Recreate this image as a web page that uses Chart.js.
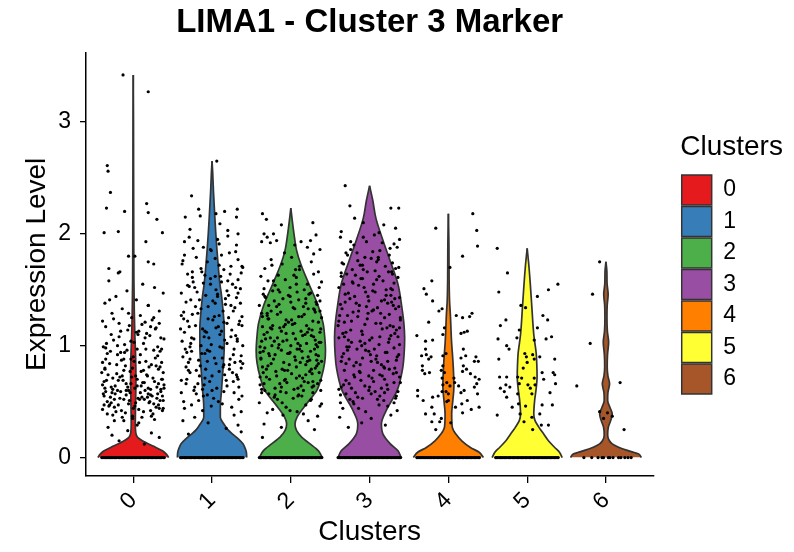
<!DOCTYPE html>
<html>
<head>
<meta charset="utf-8">
<title>LIMA1 - Cluster 3 Marker</title>
<script src="https://cdn.jsdelivr.net/npm/chart.js@4.4.0/dist/chart.umd.min.js"></script>
<style>
  html, body { margin: 0; padding: 0; background: #fff; }
</style>
</head>
<body>
<canvas id="vln" width="794" height="552"></canvas>
<script>
// Violin plot with jittered cells, one violin per cluster

var clusters = ['0', '1', '2', '3', '4', '5', '6'];
var clusterColors = ['#E41A1C', '#377EB8', '#4DAF4A', '#984EA3', '#FF7F00', '#FFFF33', '#A65628'];
var yTicks = [0, 1, 2, 3];

// violin outlines: [expression level, half width]
var vln0 = [[0,0.45],[0.03,0.42],[0.06,0.37],[0.1,0.26],[0.13,0.17],[0.15,0.115],[0.18,0.055],[0.22,0.032],[0.3,0.026],[0.5,0.03],[0.7,0.034],[0.9,0.03],[1.1,0.02],[1.3,0.013],[1.6,0.008],[2.0,0.006],[2.6,0.004],[3.0,0.003],[3.42,0]];
var vln1 = [[0,0.44],[0.05,0.435],[0.1,0.41],[0.125,0.39],[0.17,0.33],[0.21,0.26],[0.25,0.2],[0.3,0.15],[0.36,0.105],[0.45,0.105],[0.6,0.12],[0.8,0.14],[1.0,0.155],[1.15,0.155],[1.31,0.14],[1.45,0.12],[1.55,0.1],[1.7,0.08],[1.85,0.063],[2.0,0.048],[2.14,0.036],[2.38,0.018],[2.55,0.008],[2.65,0]];
var vln2 = [[0,0.4],[0.06,0.35],[0.125,0.24],[0.18,0.14],[0.24,0.074],[0.3,0.053],[0.36,0.078],[0.48,0.2],[0.6,0.33],[0.72,0.39],[0.85,0.43],[0.955,0.44],[1.08,0.43],[1.2,0.41],[1.37,0.34],[1.55,0.23],[1.73,0.126],[1.85,0.074],[2.0,0.04],[2.12,0.018],[2.23,0]];
var vln3 = [[0,0.4],[0.06,0.36],[0.125,0.26],[0.21,0.17],[0.3,0.15],[0.42,0.21],[0.6,0.35],[0.8,0.42],[0.95,0.44],[1.07,0.445],[1.2,0.435],[1.34,0.41],[1.55,0.36],[1.76,0.26],[1.94,0.17],[2.14,0.08],[2.3,0.04],[2.43,0]];
var vln4 = [[0,0.445],[0.047,0.39],[0.09,0.28],[0.15,0.17],[0.21,0.095],[0.27,0.05],[0.39,0.042],[0.5,0.055],[0.63,0.07],[0.75,0.066],[0.87,0.057],[1.04,0.04],[1.28,0.025],[1.4,0.015],[1.6,0.009],[1.9,0.007],[2.18,0]];
var vln5 = [[0,0.445],[0.047,0.41],[0.09,0.35],[0.15,0.27],[0.21,0.21],[0.27,0.15],[0.33,0.1],[0.39,0.084],[0.51,0.095],[0.62,0.115],[0.72,0.126],[0.82,0.123],[0.93,0.115],[1.1,0.084],[1.34,0.06],[1.55,0.04],[1.73,0.02],[1.87,0]];
var vln6 = [[0,0.45],[0.033,0.41],[0.062,0.28],[0.092,0.16],[0.122,0.08],[0.15,0.044],[0.2,0.022],[0.27,0.03],[0.33,0.06],[0.39,0.08],[0.45,0.05],[0.51,0.022],[0.58,0.025],[0.66,0.046],[0.73,0.025],[0.81,0.016],[0.92,0.02],[1.03,0.034],[1.13,0.018],[1.25,0.013],[1.36,0.016],[1.46,0.028],[1.56,0.014],[1.66,0.012],[1.75,0]];

// expressing cells: [jitter, expression level]
var cells0 = [[-0.13,3.42],[0.19,3.27],[-0.33,2.61],[-0.32,2.56],[-0.29,2.37],[-0.34,2.23],[-0.11,2.2],[0.17,2.27],[0.19,2.19],[0.3,2.13],[-0.37,2.01],[-0.19,2.02],[0.37,2.01],[0.16,1.93],[0.19,1.75],[0.26,1.73],[-0.06,1.8],[0.02,1.8],[-0.31,1.69],[-0.19,1.65],[-0.17,1.66],
  [-0.31,1.58],[0.12,1.55],[0.27,1.52],[-0.08,1.49],[0.38,1.47],[-0.22,1.44],[0.04,1.41],[-0.36,1.38],[0.19,1.36],[-0.14,1.33],[0.33,1.31],[-0.27,1.29],[0.09,1.27],[-0.02,1.25],[0.24,1.23],[-0.39,1.22],[0.15,1.21],[-0.18,1.2],
  [0.31,0.91],[-0.05,1.18],[0.36,0.97],[-0.25,1.05],[0.07,1.13],[-0.33,0.93],[0.21,1.09],[-0.11,1.01],[0.29,1.16],[-0.29,0.95],[0.01,1.03],[0.17,1.11],[-0.38,0.99],[0.11,1.19],[-0.2,0.92],[0.35,1.07],[-0.07,1.14],[0.26,0.96],[-0.34,1.02],[0.06,1.1],[-0.16,0.94],[0.39,1.06],[0.22,1.17],[-0.35,0.98],[-0.03,1.04],
  [0.22,0.61],[-0.35,0.88],[-0.03,0.66],[0.32,0.79],[-0.17,0.72],[0.08,0.85],[-0.28,0.63],[0.37,0.7],[-0.1,0.82],[0.14,0.67],[-0.4,0.76],[0.28,0.89],[-0.23,0.64],[0.03,0.73],[0.34,0.81],[-0.13,0.69],[0.19,0.62],[-0.3,0.84],[0.1,0.77],[-0.06,0.6],[0.25,0.71],[-0.37,0.68],[0.16,0.86],[-0.21,0.75],[0.39,0.65],[-0.01,0.8],[0.3,0.63],[-0.15,0.87],[0.05,0.7],[-0.32,0.74],[0.23,0.83],[-0.09,0.66],[0.13,0.78],[-0.26,0.61],[0.36,0.85],[-0.19,0.69],[0.02,0.62],[-0.36,0.8],[0.18,0.73],[-0.12,0.88],
  [-0.04,0.58],[0.29,0.45],[-0.24,0.52],[0.11,0.36],[-0.37,0.55],[0.2,0.49],[0.35,0.59],[-0.15,0.42],[-0.3,0.47],[0.06,0.53],[0.25,0.39],[-0.09,0.56],[0.38,0.44],[-0.2,0.6],[0.13,0.41],[-0.33,0.5],[0.02,0.46],[0.31,0.57],[-0.12,0.33],[0.18,0.54],[-0.39,0.43],[0.09,0.58],[-0.26,0.38],[0.34,0.51],[-0.06,0.48],[0.22,0.56],[-0.17,0.53],[0.27,0.34],[-0.35,0.59],[0.0,0.44],[0.15,0.6],[-0.28,0.49],[0.37,0.55],[-0.1,0.4],[0.08,0.52],[-0.23,0.57],[0.32,0.47],[-0.01,0.37],
  [-0.32,0.27],[0.23,0.22],[-0.18,0.15],[0.05,0.29],[0.33,0.18],[-0.07,0.24],[0.14,0.12],[-0.27,0.2],
  [0.14,0.52],[-0.26,0.71],[0.33,0.44],[-0.07,0.63],[0.2,0.81],[-0.38,0.57],[0.03,0.49],[0.27,0.68],[-0.16,0.59],[0.38,0.76],[-0.31,0.46],[0.1,0.64],[-0.21,0.83],[0.24,0.55],[-0.02,0.72],[0.35,0.61],[-0.34,0.69],[0.07,0.43],[-0.12,0.78],[0.3,0.53],[-0.27,0.58],[0.17,0.74],[-0.05,0.51],[0.39,0.62],[-0.19,0.47],[0.12,0.67],[-0.36,0.79],[0.26,0.48],[-0.09,0.6],[0.01,0.86],[0.32,0.66],[-0.24,0.45],[0.19,0.57],[-0.14,0.73],[0.05,0.64],[-0.29,0.54],[0.36,0.7],[-0.04,0.77],[0.21,0.5],[-0.39,0.65],
  [-0.18,1.08],[0.09,0.92],[-0.33,0.39],[0.28,1.15],[-0.01,0.35],[0.16,0.97],[-0.25,1.24],[0.37,0.42],[-0.11,0.94],[0.04,1.12],[-0.39,0.85],[0.23,0.37],[-0.06,1.29],[0.31,0.99],[-0.22,0.41],[0.13,1.02],[-0.35,1.17],[0.0,0.9],[0.26,1.25],[-0.14,0.36],[0.34,0.95],[-0.28,1.1],[0.07,0.31],[-0.08,0.96],[0.19,1.36],[-0.37,0.47],[0.29,0.82],[-0.2,1.0],[0.11,0.54],[-0.3,1.41],[0.38,0.51],[-0.03,0.88],[0.15,1.07],[-0.24,0.33],[0.33,1.2],[-0.12,0.52],[0.05,0.97],[-0.36,0.62],[0.22,0.42],[-0.16,1.13]];

var cells1 = [[0.06,2.65],[-0.26,2.34],[-0.17,2.22],[-0.34,2.15],[-0.15,2.16],[0.16,2.2],[0.32,2.22],[0.31,2.15],[0.33,2.0],[0.05,2.18],[0.1,2.09],[0.2,2.03],[-0.28,2.04],
  [0.04,1.62],[-0.29,1.97],[0.24,1.71],[-0.11,1.88],[0.37,1.65],[-0.2,1.79],[-0.35,1.93],[0.15,1.68],[0.3,1.84],[-0.06,1.75],[-0.25,1.61],[0.09,1.91],[-0.38,1.73],[0.2,1.98],[-0.13,1.66],[0.33,1.77],[-0.02,1.86],[-0.31,1.64],[0.12,1.81],[-0.18,1.94],[0.39,1.7],[-0.09,1.63],
  [-0.31,1.22],[0.12,1.57],[0.27,1.31],[-0.08,1.45],[0.38,1.26],[-0.22,1.52],[0.04,1.38],[-0.36,1.24],[0.19,1.49],[-0.14,1.33],[0.33,1.59],[-0.27,1.41],[0.09,1.27],[-0.02,1.55],[0.24,1.36],[-0.39,1.47],[0.15,1.21],[-0.18,1.29],[0.31,1.43],[-0.05,1.35],[0.36,1.51],[-0.25,1.28],[0.07,1.46],[-0.33,1.39],[0.21,1.25],[-0.11,1.56],[0.29,1.34],[-0.29,1.53],[0.01,1.23],[0.17,1.42],
  [0.22,0.83],[-0.35,1.12],[-0.03,0.95],[0.32,1.04],[-0.17,0.87],[0.08,1.17],[-0.28,0.99],[0.37,0.91],[-0.1,1.08],[0.14,0.81],[-0.4,1.15],[0.28,0.97],[-0.23,1.06],[0.03,0.89],[0.34,1.19],[-0.13,0.93],[0.19,1.02],[-0.3,0.85],[0.1,1.1],[-0.06,0.96],[0.25,1.14],[-0.37,0.9],[0.16,1.05],[-0.21,1.18],[0.39,0.84],[-0.01,1.01],[0.3,1.09],[-0.15,0.82],[0.05,1.16],[-0.32,0.94],[0.23,0.88],[-0.09,1.13],[0.13,0.98],[-0.26,1.07],[0.36,0.86],
  [0.06,0.62],[0.25,0.45],[-0.09,0.71],[0.38,0.55],[-0.2,0.78],[0.13,0.48],[-0.33,0.66],[0.02,0.53],[0.31,0.74],[-0.12,0.42],[0.18,0.69],[-0.39,0.58],[0.09,0.77],[-0.26,0.47],[0.34,0.63],[-0.06,0.56],[0.22,0.79],[-0.17,0.51],[0.27,0.68],[-0.35,0.44],[0.0,0.73],[0.15,0.59],[-0.28,0.76],[0.37,0.41],[-0.1,0.65],[0.08,0.5],[-0.23,0.6],[0.32,0.72],[-0.01,0.46],[-0.32,0.7],
  [0.33,0.29],[-0.37,0.33],[0.37,0.23],[-0.22,0.36],[0.18,0.26],[-0.05,0.31],[0.28,0.38],[-0.3,0.21],
  [0.14,1.31],[-0.26,0.95],[0.33,1.47],[-0.07,1.12],[0.2,1.58],[-0.38,1.04],[0.03,1.26],[0.27,0.92],[-0.16,1.41],[0.38,1.18],[-0.31,1.54],[0.1,0.99],[-0.21,1.35],[0.24,1.08],[-0.02,1.6],[0.35,1.22],[-0.34,0.97],[0.07,1.44],[-0.12,1.15],[0.3,1.52],[-0.27,1.02],[0.17,1.37],[-0.05,1.24],[0.39,1.0],[-0.19,1.48],[0.12,1.13],[-0.36,1.3],[0.26,1.55],[-0.09,0.93],[0.01,1.4],[0.32,1.06],[-0.24,1.57],[0.19,1.2],[-0.14,1.0],[0.05,1.5],[-0.29,1.17],[0.36,1.38],[-0.04,1.07],[0.21,1.45],[-0.39,1.27],
  [-0.18,0.66],[0.09,1.72],[-0.33,0.81],[0.28,0.58],[-0.01,1.85],[0.16,0.74],[-0.25,1.66],[0.37,0.8],[-0.11,0.55],[0.04,1.78],[-0.39,0.69],[0.23,1.64],[-0.06,0.86],[0.31,1.9],[-0.22,0.63],[0.13,0.89],[-0.35,1.81],[0.0,0.6],[0.26,0.76],[-0.14,1.69],[0.34,0.52],[-0.28,0.88],[0.07,1.95],[-0.08,0.79],[0.19,0.64],[-0.37,1.76],[0.29,0.85],[-0.2,0.57],[0.11,1.62],[-0.3,0.78],[0.38,1.71],[-0.03,0.68],[0.15,0.83],[-0.24,1.87],[0.33,0.7],[-0.12,0.61],[0.05,0.84],[-0.36,0.5],[0.22,1.83],[-0.16,0.73]];

var cells2 = [[-0.31,2.13],[-0.34,2.0],[-0.3,1.97],[-0.37,1.93],[-0.26,1.92],[-0.22,2.0],[-0.18,1.94],[0.13,1.93],[0.25,1.94],[0.32,1.99],[0.37,1.86],[0.21,1.88],[-0.08,1.83],[0.05,1.9],[0.29,1.82],[-0.12,2.08],[-0.36,2.18],[0.28,2.1],
  [0.36,1.52],[-0.25,1.77],[0.07,1.61],[-0.33,1.69],[0.21,1.55],[-0.11,1.73],[0.29,1.64],[-0.29,1.58],[0.01,1.79],[0.17,1.5],[-0.38,1.62],[0.11,1.71],[-0.2,1.54],[0.35,1.66],[-0.07,1.59],[0.26,1.75],[-0.34,1.51],[0.06,1.68],[-0.16,1.63],[0.39,1.57],
  [0.22,1.33],[-0.35,1.46],[-0.03,1.21],[0.32,1.39],[-0.17,1.28],[0.08,1.48],[-0.28,1.24],[0.37,1.31],[-0.1,1.42],[0.14,1.26],[-0.4,1.36],[0.28,1.22],[-0.23,1.49],[0.03,1.34],[0.34,1.45],[-0.13,1.3],[0.19,1.38],[-0.3,1.27],[0.1,1.41],[-0.06,1.23],[0.25,1.47],[-0.37,1.29],[0.16,1.35],[-0.21,1.4],[0.39,1.25],[-0.01,1.44],[0.3,1.32],[-0.15,1.37],[0.05,1.2],[-0.32,1.43],
  [-0.04,0.93],[0.29,1.08],[-0.24,1.15],[0.11,0.97],[-0.37,1.04],[0.2,1.18],[0.35,0.91],[-0.15,1.01],[-0.3,1.12],[0.06,1.06],[0.25,0.95],[-0.09,1.17],[0.38,1.03],[-0.2,0.92],[0.13,1.13],[-0.33,0.98],[0.02,1.19],[0.31,1.05],[-0.12,0.96],[0.18,1.1],[-0.39,0.94],[0.09,1.02],[-0.26,1.16],[0.34,0.99],[-0.06,1.11],[0.22,0.9],[-0.17,1.07],[0.27,1.14],[-0.35,0.95],[0.0,1.0],[0.15,1.09],[-0.28,0.93],[0.37,1.12],[-0.1,1.04],[0.08,0.97],[-0.23,1.18],[0.32,1.01],[-0.01,0.94],[-0.32,1.06],[0.23,1.15],
  [-0.31,0.72],[0.12,0.85],[0.27,0.63],[-0.08,0.78],[0.38,0.69],[-0.22,0.88],[0.04,0.61],[-0.36,0.81],[0.19,0.74],[-0.14,0.66],[0.33,0.87],[-0.27,0.7],[0.09,0.62],[-0.02,0.83],[0.24,0.77],[-0.39,0.65],[0.15,0.89],[-0.18,0.73],[0.31,0.8],[-0.05,0.67],[0.36,0.76],[-0.25,0.84],[0.07,0.71],[-0.33,0.6],[0.21,0.86],[-0.11,0.79],[0.29,0.64],[-0.29,0.82],[0.01,0.75],[0.17,0.68],[-0.38,0.89],[0.11,0.73],[-0.2,0.62],[0.35,0.84],[-0.07,0.7],[0.26,0.79],[-0.34,0.66],[0.06,0.87],
  [-0.17,0.52],[0.08,0.41],[-0.28,0.57],[0.37,0.46],[-0.1,0.38],[0.14,0.55],[-0.4,0.49],[0.28,0.58],[-0.23,0.43],[0.03,0.53],[0.34,0.37],[-0.13,0.59],[0.19,0.47],[-0.3,0.4],[0.1,0.56],[-0.06,0.45],[0.25,0.51],[-0.37,0.58],[0.16,0.39],[-0.21,0.54],[0.39,0.48],[-0.01,0.42],
  [-0.34,0.3],[0.3,0.25],[-0.36,0.18],[0.22,0.33],[-0.12,0.27],
  [0.14,0.95],[-0.26,1.07],[0.33,0.82],[-0.07,1.19],[0.2,1.02],[-0.38,0.88],[0.03,1.11],[0.27,0.75],[-0.16,0.98],[0.38,1.15],[-0.31,0.79],[0.1,1.26],[-0.21,1.04],[0.24,0.87],[-0.02,0.93],[0.35,1.21],[-0.34,1.1],[0.07,0.81],[-0.12,1.13],[0.3,0.97],[-0.27,0.91],[0.17,1.28],[-0.05,1.05],[0.39,0.86],[-0.19,0.77],[0.12,1.0],[-0.36,1.17],[0.26,1.09],[-0.09,0.85],[0.01,1.23],[0.32,0.92],[-0.24,1.0],[0.19,0.83],[-0.14,1.16],[0.05,0.9],[-0.29,1.24],[0.36,1.03],[-0.04,0.78],[0.21,1.12],[-0.39,0.99],
  [-0.18,1.35],[0.09,0.55],[-0.33,1.44],[0.28,0.68],[-0.01,1.52],[0.16,0.6],[-0.25,1.31],[0.37,1.4],[-0.11,0.49],[0.04,1.63],[-0.39,0.72],[0.23,1.46],[-0.06,0.58],[0.31,1.3],[-0.22,1.58],[0.13,0.64],[-0.35,0.76],[0.0,1.39],[0.26,0.52],[-0.14,1.48],[0.34,0.66],[-0.28,1.36],[0.07,1.55],[-0.08,0.69],[0.19,1.42],[-0.37,0.61],[0.29,1.33],[-0.2,0.56],[0.11,1.68],[-0.3,1.29],[0.38,0.6],[-0.03,1.45],[0.15,0.71],[-0.24,1.72],[0.33,1.37],[-0.12,0.63],[0.05,1.33],[-0.36,1.26],[0.22,0.67],[-0.16,1.5]];

var cells3 = [[-0.31,2.43],[-0.25,2.25],[0.27,2.23],[0.37,2.23],[-0.08,2.1],[0.18,2.08],[-0.36,2.02],[0.33,2.05],[-0.19,2.14],[0.12,2.01],
  [-0.04,1.93],[0.29,1.74],[-0.24,1.86],[0.11,1.79],[-0.37,1.97],[0.2,1.71],[0.35,1.88],[-0.15,1.76],[-0.3,1.83],[0.06,1.99],[0.25,1.81],[-0.09,1.72],[0.38,1.95],[-0.2,1.9],[0.13,1.85],[-0.33,1.73],[0.02,1.78],[0.31,1.91],
  [-0.31,1.46],[0.12,1.62],[0.27,1.51],[-0.08,1.68],[0.38,1.43],[-0.22,1.57],[0.04,1.49],[-0.36,1.65],[0.19,1.41],[-0.14,1.54],[0.33,1.69],[-0.27,1.47],[0.09,1.59],[-0.02,1.44],[0.24,1.66],[-0.39,1.52],[0.15,1.4],[-0.18,1.63],[0.31,1.56],[-0.05,1.48],[0.36,1.61],[-0.25,1.42],[0.07,1.67],[-0.33,1.55],[0.21,1.45],[-0.11,1.6],[0.29,1.5],[-0.29,1.64],
  [0.22,1.16],[-0.35,1.33],[-0.03,1.24],[0.32,1.11],[-0.17,1.38],[0.08,1.2],[-0.28,1.27],[0.37,1.35],[-0.1,1.13],[0.14,1.29],[-0.4,1.18],[0.28,1.39],[-0.23,1.22],[0.03,1.31],[0.34,1.14],[-0.13,1.36],[0.19,1.25],[-0.3,1.12],[0.1,1.34],[-0.06,1.19],[0.25,1.28],[-0.37,1.37],[0.16,1.15],[-0.21,1.3],[0.39,1.23],[-0.01,1.4],[0.3,1.17],[-0.15,1.26],[0.05,1.32],[-0.32,1.21],[0.23,1.38],[-0.09,1.1],
  [-0.3,0.84],[0.06,0.97],[0.25,1.06],[-0.09,0.89],[0.38,1.01],[-0.2,0.82],[0.13,1.08],[-0.33,0.93],[0.02,0.86],[0.31,0.98],[-0.12,1.04],[0.18,0.81],[-0.39,1.07],[0.09,0.91],[-0.26,0.99],[0.34,0.87],[-0.06,1.02],[0.22,0.94],[-0.17,0.85],[0.27,1.09],[-0.35,0.9],[0.0,1.05],[0.15,0.83],[-0.28,0.96],[0.37,0.92],[-0.1,1.0],[0.08,0.88],[-0.23,1.03],[0.32,0.8],[-0.01,0.95],[-0.32,1.08],[0.23,0.86],
  [-0.23,0.62],[0.03,0.71],[0.34,0.55],[-0.13,0.77],[0.19,0.58],[-0.3,0.69],[0.1,0.52],[-0.06,0.64],[0.25,0.79],[-0.37,0.56],[0.16,0.73],[-0.21,0.5],[0.39,0.67],[-0.01,0.6],[0.3,0.75],[-0.15,0.54],[0.05,0.68],[-0.32,0.78],[0.23,0.61],[-0.09,0.53],[0.13,0.74],[-0.26,0.66],[0.36,0.59],[-0.19,0.72],[0.02,0.57],[-0.36,0.63],[0.18,0.51],[-0.12,0.76],
  [-0.34,0.44],[0.27,0.38],[-0.1,0.31],[0.12,0.47],[-0.27,0.27],[0.35,0.42],[0.02,0.35],[-0.2,0.48],[0.2,0.29],[-0.38,0.36],[0.31,0.49],[-0.05,0.41],
  [0.14,1.2],[-0.26,0.88],[0.33,1.33],[-0.07,1.52],[0.2,0.94],[-0.38,1.27],[0.03,1.07],[0.27,1.45],[-0.16,0.97],[0.38,1.16],[-0.31,1.39],[0.1,0.85],[-0.21,1.56],[0.24,1.03],[-0.02,1.29],[0.35,0.9],[-0.34,1.11],[0.07,1.48],[-0.12,0.83],[0.3,1.36],[-0.27,1.05],[0.17,1.58],[-0.05,0.96],[0.39,1.25],[-0.19,1.44],[0.12,1.01],[-0.36,0.86],[0.26,1.18],[-0.09,1.6],[0.01,0.92],[0.32,1.42],[-0.24,1.14],[0.19,0.8],[-0.14,1.31],[0.05,1.55],[-0.29,0.99],[0.36,1.08],[-0.04,1.35],[0.21,1.5],[-0.39,1.22],
  [-0.18,0.58],[0.09,1.75],[-0.33,0.65],[0.28,1.66],[-0.01,0.73],[0.16,1.92],[-0.25,0.52],[0.37,1.7],[-0.11,0.69],[0.04,1.84],[-0.39,0.61],[0.23,0.46],[-0.06,1.79],[0.31,0.67],[-0.22,1.68],[0.13,0.55],[-0.35,1.74],[0.0,0.63],[0.26,1.87],[-0.14,0.44],[0.34,0.76],[-0.28,1.81],[0.07,0.59],[-0.08,1.97],[0.19,0.7],[-0.37,0.49],[0.29,1.64],[-0.2,0.74],[0.11,1.77],[-0.3,0.57],[0.38,0.72],[-0.03,1.66],[0.15,0.62],[-0.24,1.93],[0.33,0.53],[-0.12,1.72],[0.05,0.78],[-0.36,1.62],[0.22,0.65],[-0.16,1.83]];

var cells4 = [[0.31,2.18],[0.36,2.03],[0.37,1.89],[-0.16,2.05],[0.18,1.8],[0.02,1.7],[-0.21,1.58],[-0.31,1.51],[-0.28,1.46],[-0.2,1.4],[-0.12,1.31],[-0.08,1.33],[0.3,1.29],[0.27,1.26],[0.18,1.25],[0.1,1.27],[-0.25,1.21],[-0.05,1.16],[0.24,1.13],[0.2,1.12],[0.16,1.11],[-0.4,1.09],[-0.07,1.1],[-0.29,1.04],[-0.2,1.05],[0.19,0.97],[-0.29,0.97],[-0.34,0.91],[-0.28,0.92],[-0.22,0.9],[-0.25,0.88],[-0.07,0.91],[-0.03,0.93],[0.22,0.91],[0.16,0.89],[0.35,0.9],[0.38,0.86],[0.33,0.86],
  [-0.33,0.82],[-0.33,0.78],[-0.24,0.76],[-0.3,0.75],[-0.07,0.82],[-0.09,0.78],[-0.05,0.76],[0.19,0.82],[0.18,0.77],[0.23,0.79],[0.28,0.75],[0.34,0.72],[0.39,0.7],[0.36,0.66],[0.33,0.63],[0.07,0.71],[0.08,0.67],[-0.08,0.71],[-0.07,0.65],[-0.02,0.67],[-0.08,0.59],[-0.03,0.59],[0.0,0.57],[0.02,0.64],[0.0,0.51],[-0.02,0.5],[0.13,0.64],[0.2,0.6],
  [-0.39,0.6],[-0.39,0.55],[-0.32,0.51],[-0.2,0.54],[-0.13,0.55],[-0.21,0.45],[-0.29,0.39],[-0.18,0.39],[-0.21,0.32],[-0.16,0.25],[-0.11,0.32],[-0.09,0.35],[0.16,0.58],[0.17,0.48],[0.09,0.45],[0.18,0.4],[0.24,0.51],[0.29,0.43],[0.39,0.45],[0.37,0.57],[0.03,0.31]];

var cells5 = [[-0.38,1.87],[-0.25,1.65],[0.39,1.55],[0.27,1.5],[-0.36,1.48],[0.13,1.44],[-0.08,1.36],[0.2,1.27],[-0.02,1.34],[0.26,1.23],[-0.27,1.23],[-0.34,1.18],[-0.1,1.14],[0.13,1.16],[-0.37,1.06],[-0.13,1.07],[0.31,1.08],[0.24,1.06],[0.09,1.05],[-0.26,1.0],[-0.23,0.97],
  [-0.03,0.93],[0.0,0.85],[-0.01,0.9],[0.07,0.92],[0.09,0.88],[0.16,0.9],[0.19,0.76],[0.35,0.88],[0.33,0.76],[0.35,0.74],[0.36,0.66],[-0.36,0.88],[-0.26,0.72],[-0.35,0.72],[-0.27,0.65],[-0.22,0.63],[-0.34,0.62],[-0.29,0.59],[-0.26,0.54],[-0.12,0.72],[-0.07,0.71],[-0.12,0.57],[-0.1,0.66],[-0.05,0.8],[0.01,0.65],[0.04,0.62],[0.09,0.71],[0.1,0.65],[0.06,0.57],[0.21,0.7],[0.29,0.58],
  [0.32,0.47],[0.19,0.47],[-0.19,0.45],[-0.11,0.48],[-0.02,0.46],[-0.38,0.38],[-0.09,0.39],[0.16,0.39],[0.18,0.29],[0.27,0.29],[0.06,0.36],[-0.04,0.32],[0.07,0.25]];

var cells6 = [[-0.08,1.75],[-0.17,1.46],[-0.2,1.02],[-0.37,0.64],[0.18,0.67],[-0.08,0.41],[0.02,0.4],[0.08,0.37],[-0.03,0.35],[0.23,0.25]];

// cells with zero expression: jitter only
var zeroJitter = [-0.4,-0.386,-0.371,-0.352,-0.338,-0.321,-0.307,-0.289,-0.272,-0.258,-0.24,-0.223,-0.209,-0.19,-0.174,-0.157,-0.141,-0.122,-0.108,-0.09,-0.073,-0.055,-0.041,-0.022,-0.006,0.011,0.028,0.044,0.061,0.079,0.093,0.112,0.127,0.146,0.16,0.178,0.194,0.213,0.228,0.245,0.262,0.279,0.296,0.312,0.329,0.347,0.362,0.38,0.394];
var zeroJitter6 = [-0.28,-0.18,-0.1,-0.05,-0.03,0.03,0.05,0.09,0.16,0.19,0.24,0.28,0.32];

var violins = [vln0, vln1, vln2, vln3, vln4, vln5, vln6];
var cells = [cells0, cells1, cells2, cells3, cells4, cells5, cells6];
var zeros = [zeroJitter, zeroJitter, zeroJitter, zeroJitter, zeroJitter, zeroJitter, zeroJitter6];

var FONT = "'Liberation Sans', Arial, Helvetica, sans-serif";
var OUTLINE = '#333333';
Chart.defaults.font.family = FONT;
Chart.defaults.color = '#000';

var datasets = [];

// points first so they are drawn above the violins
cells.forEach(function (list, c) {
    var pts = list.map(function (p) { return { x: c + p[0], y: p[1] }; });
    zeros[c].forEach(function (j) { pts.push({ x: c + j, y: 0 }); });
    datasets.push({
        type: 'scatter',
        data: pts,
        backgroundColor: '#000',
        borderWidth: 0,
        pointRadius: 1.6,
        order: 0
    });
});

violins.forEach(function (prof, c) {
    // left edge
    datasets.push({
        type: 'line',
        indexAxis: 'y',
        data: prof.map(function (p) { return { x: c - p[1], y: p[0] }; }),
        borderColor: OUTLINE,
        borderWidth: 1.7,
        pointRadius: 0,
        fill: false,
        cubicInterpolationMode: 'monotone',
        order: 1
    });
    // right edge, filled back to the left edge
    datasets.push({
        type: 'line',
        indexAxis: 'y',
        data: prof.map(function (p) { return { x: c + p[1], y: p[0] }; }),
        borderColor: OUTLINE,
        borderWidth: 1.7,
        pointRadius: 0,
        fill: '-1',
        backgroundColor: clusterColors[c],
        cubicInterpolationMode: 'monotone',
        order: 1
    });
});

// let the legend title run past the narrow column of boxes
var legendRoom = {
    id: 'legendRoom',
    afterLayout: function (chart) {
        var lg = chart.legend;
        lg.right = chart.width;
        lg.width = lg.right - lg.left;
    }
};

new Chart(document.getElementById('vln'), {
    type: 'scatter',
    data: { datasets: datasets },
    plugins: [legendRoom],
    options: {
        responsive: false,
        animation: false,
        events: [],
        layout: { padding: { left: 0, right: 48, top: 0, bottom: 0 } },
        plugins: {
            title: {
                display: true,
                text: 'LIMA1 - Cluster 3 Marker',
                fullSize: false,
                color: '#000',
                font: { size: 33, weight: 'bold' },
                padding: { top: 3, bottom: 10 }
            },
            legend: {
                position: 'right',
                fullSize: false,
                onClick: function () {},
                title: {
                    display: true,
                    text: 'Clusters',
                    position: 'start',
                    color: '#000',
                    font: { size: 28 },
                    padding: { top: 0, bottom: 7 }
                },
                labels: {
                    boxWidth: 30,
                    boxHeight: 30,
                    padding: 1.5,
                    color: '#000',
                    font: { size: 23 },
                    generateLabels: function () {
                        return clusters.map(function (c, i) {
                            return {
                                text: c,
                                fillStyle: clusterColors[i],
                                strokeStyle: OUTLINE,
                                lineWidth: 1.5,
                                hidden: false,
                                datasetIndex: i
                            };
                        });
                    }
                }
            },
            tooltip: { enabled: false }
        },
        scales: {
            x: {
                type: 'linear',
                min: -0.6,
                max: 6.6,
                afterBuildTicks: function (s) { s.ticks = clusters.map(function (c, i) { return { value: i }; }); },
                afterFit: function (s) { s.height = 76; },
                ticks: {
                    autoSkip: false,
                    minRotation: 45,
                    maxRotation: 45,
                    padding: 4,
                    color: '#000',
                    font: { size: 23 },
                    callback: function (v) { return clusters[v]; }
                },
                grid: { display: true, drawOnChartArea: false, drawTicks: true, tickLength: 7, color: '#000', lineWidth: 1.3 },
                border: { display: true, color: '#000', width: 1.5 },
                title: { display: true, text: 'Clusters', color: '#000', font: { size: 28 }, padding: { top: 0, bottom: 3 } }
            },
            y: {
                type: 'linear',
                min: -0.165,
                max: 3.62,
                afterBuildTicks: function (s) { s.ticks = yTicks.map(function (v) { return { value: v }; }); },
                afterFit: function (s) { s.width = 86; },
                ticks: { padding: 9, color: '#000', font: { size: 23 } },
                grid: { display: true, drawOnChartArea: false, drawTicks: true, tickLength: 6, color: '#000', lineWidth: 1.3 },
                border: { display: true, color: '#000', width: 1.5 },
                title: { display: true, text: 'Expression Level', color: '#000', font: { size: 28 }, padding: { top: 20, bottom: 0 } }
            },
            gap: {
                type: 'linear',
                position: 'right',
                display: true,
                afterFit: function (s) { s.width = 27; },
                ticks: { display: false },
                grid: { display: false, drawTicks: false },
                border: { display: false }
            }
        }
    }
});
</script>
</body>
</html>
